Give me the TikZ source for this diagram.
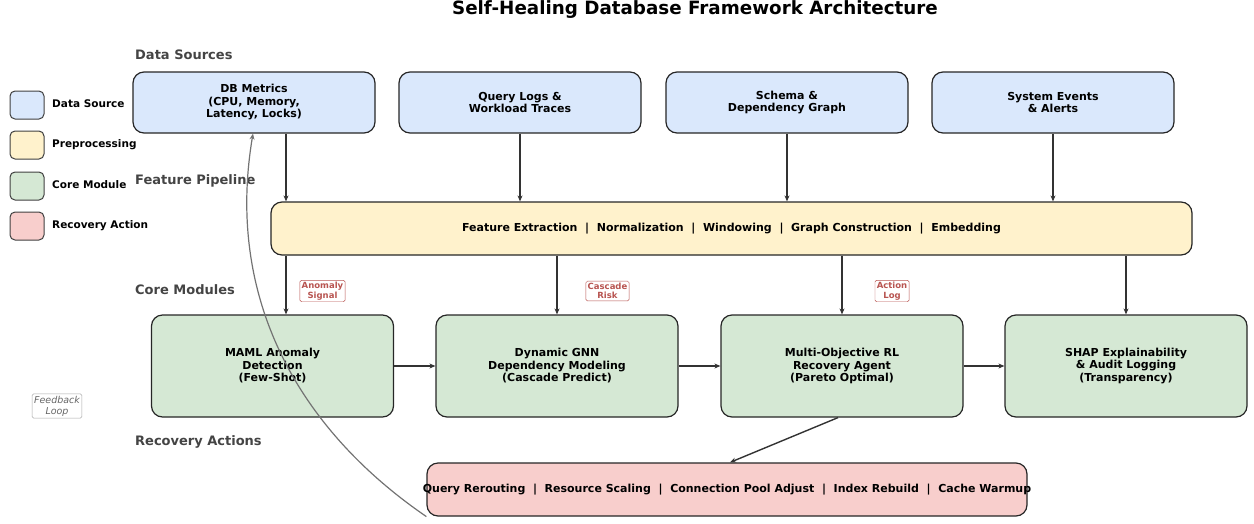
\documentclass[tikz,border=0pt]{standalone}
\usepackage{fontspec}
\setmainfont{DejaVu Sans}
\usetikzlibrary{arrows.meta}
\definecolor{dsfill}{HTML}{DAE8FC}
\definecolor{ppfill}{HTML}{FFF2CC}
\definecolor{cmfill}{HTML}{D5E8D4}
\definecolor{rafill}{HTML}{F8CECC}
\definecolor{linedark}{HTML}{333333}
\definecolor{sectgray}{HTML}{444444}
\definecolor{sigred}{HTML}{B85450}
\begin{document}
\begin{tikzpicture}[x=1pt,y=-1pt,>={Stealth[length=6pt,width=5pt]},
  box/.style={draw=black!85,line width=1.2pt,rounded corners=11pt,align=center,
    font=\fontsize{11}{12.5}\selectfont\bfseries,inner sep=0pt},
  srcbox/.style={box,fill=dsfill,minimum width=242pt,minimum height=61pt},
  corebox/.style={box,fill=cmfill,minimum width=242pt,minimum height=102pt},
  legbox/.style={draw=black!75,line width=1pt,rounded corners=5pt,minimum width=34pt,minimum height=28pt,inner sep=0pt},
  legtext/.style={anchor=west,inner sep=0pt,font=\fontsize{10.5}{12}\selectfont\bfseries},
  sect/.style={anchor=west,inner sep=0pt,text=sectgray,font=\fontsize{13}{15}\selectfont\bfseries},
  sig/.style={draw=sigred,fill=white,text=sigred,rounded corners=1.5pt,align=center,
    font=\fontsize{8.5}{9.5}\selectfont\bfseries,inner sep=1.8pt},
  flow/.style={->,draw=linedark,line width=1.4pt}]

  \useasboundingbox (0,0) rectangle (1254,523);

  \node (title) at (695,10) {\fontsize{18.3}{21}\selectfont\bfseries Self-Healing Database Framework Architecture};

  % legend
  \node (l1) at (27,105) [legbox,fill=dsfill] {};
  \node (l2) at (27,145) [legbox,fill=ppfill] {};
  \node (l3) at (27,186) [legbox,fill=cmfill] {};
  \node (l4) at (27,226) [legbox,fill=rafill] {};
  \node (t1) at (52,104) [legtext] {Data Source};
  \node (t2) at (52,145) [legtext] {Preprocessing};
  \node (t3) at (52,185) [legtext] {Core Module};
  \node (t4) at (52,226) [legtext] {Recovery Action};

  % section titles
  \node (s1) at (135,55) [sect] {Data Sources};
  \node (s2) at (135,181) [sect] {Feature Pipeline};
  \node (s3) at (135,290) [sect] {Core Modules};
  \node (s4) at (135,442) [sect] {Recovery Actions};

  % data sources
  \node (ds1) at (254,102.5) [srcbox] {DB Metrics\\(CPU, Memory,\\Latency, Locks)};
  \node (ds2) at (520,102.5) [srcbox] {Query Logs \&\\Workload Traces};
  \node (ds3) at (787,102.5) [srcbox] {Schema \&\\Dependency Graph};
  \node (ds4) at (1053,102.5) [srcbox] {System Events\\\& Alerts};

  % feature pipeline
  \node (feat) at (731.5,228.5) [box,fill=ppfill,minimum width=921pt,minimum height=53pt]
    {Feature Extraction \ | \ Normalization \ | \ Windowing \ | \ Graph Construction \ | \ Embedding};

  % core modules
  \node (cm1) at (272.5,366) [corebox] {MAML Anomaly\\Detection\\(Few-Shot)};
  \node (cm2) at (557,366) [corebox] {Dynamic GNN\\Dependency Modeling\\(Cascade Predict)};
  \node (cm3) at (842,366) [corebox] {Multi-Objective RL\\Recovery Agent\\(Pareto Optimal)};
  \node (cm4) at (1126,366) [corebox] {SHAP Explainability\\\& Audit Logging\\(Transparency)};

  % recovery actions
  \node (rec) at (727,489.5) [box,fill=rafill,minimum width=600pt,minimum height=53pt]
    {\makebox[580pt]{Query Rerouting \ | \ Resource Scaling \ | \ Connection Pool Adjust \ | \ Index Rebuild \ | \ Cache Warmup}};

  \coordinate (c1) at (286,0);
  \coordinate (fb) at (253,0);
  \coordinate (ra) at (838,0);
  \coordinate (rb) at (730,0);

  \draw [flow] (ds1.south -| c1) -- (feat.north -| c1);
  \draw [flow] (ds2) -- (feat.north -| ds2);
  \draw [flow] (ds3) -- (feat.north -| ds3);
  \draw [flow] (ds4) -- (feat.north -| ds4);

  \draw [flow] (feat.south -| c1) -- (cm1.north -| c1);
  \draw [flow] (feat.south -| cm2) -- (cm2);
  \draw [flow] (feat.south -| cm3) -- (cm3);
  \draw [flow] (feat.south -| cm4) -- (cm4);

  \draw [flow] (cm1) -- (cm2);
  \draw [flow] (cm2) -- (cm3);
  \draw [flow] (cm3) -- (cm4);
  \draw [flow] (cm3.south -| ra) -- (rec.north -| rb);

  \draw [->,draw=black!55,line width=1.2pt] (rec.south west)
    .. controls (300,430) and (225,300) .. (ds1.south -| fb);

  \node (sg1) at (322.5,291) [sig] {Anomaly\\Signal};
  \node (sg2) at (607.5,291) [sig] {Cascade\\Risk};
  \node (sg3) at (892,291) [sig] {Action\\Log};

  \node (fl) at (57,406) [draw=black!35,rounded corners=1.5pt,align=center,text=black!60,
    font=\fontsize{9.5}{11}\selectfont\itshape,inner sep=2pt] {Feedback\\Loop};
\end{tikzpicture}
\end{document}
